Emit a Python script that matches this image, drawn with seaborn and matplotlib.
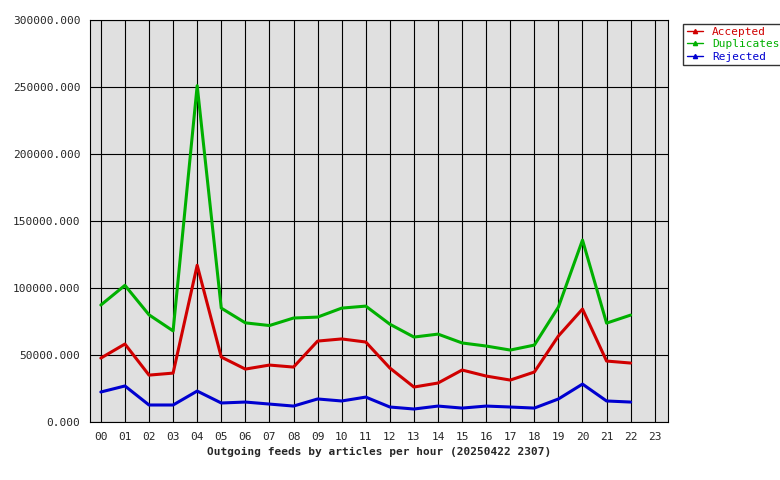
import seaborn as sns
import pandas as pd
import matplotlib.pyplot as plt

hours = ["%02d" % h for h in range(24)]
accepted = [47700, 58200, 35000, 36500, 117000, 48500, 39500, 42500, 41000, 60400, 62000, 59700,
            40300, 26100, 29100, 38800, 34300, 31300, 37300, 64200, 84300, 45500, 44000]
duplicates = [87300, 102000, 80000, 68000, 251000, 85000, 74000, 72000, 77600, 78300, 85000, 86500,
              73000, 63400, 65600, 59000, 56700, 53700, 57400, 85800, 135800, 73800, 79800]
rejected = [22400, 26900, 12700, 12700, 23100, 14200, 14900, 13400, 11900, 17200, 15700, 18600,
            11200, 9700, 11900, 10400, 11900, 11200, 10400, 17200, 28300, 15700, 14900]

n = len(accepted)
df = pd.DataFrame({
    "hour": list(range(n)) * 3,
    "value": accepted + duplicates + rejected,
    "series": ["Accepted"] * n + ["Duplicates"] * n + ["Rejected"] * n,
})
colors = {"Accepted": "#d00000", "Duplicates": "#00b000", "Rejected": "#0000d0"}

sns.set_style("white")
plt.rcParams["font.family"] = ["DejaVu Sans Mono"]
fig = plt.figure(figsize=(7.8, 4.8), dpi=100)
ax = fig.add_axes([0.1154, 0.1208, 0.741, 0.8375])
ax.set_facecolor("#e0e0e0")
sns.lineplot(data=df, x="hour", y="value", hue="series", palette=colors, linewidth=2.2, ax=ax, legend=False)
ax.set_xlim(-0.45, 23.55)
ax.set_ylim(0, 300000)
ax.set_xticks(range(24))
ax.set_xticklabels(hours, fontsize=8)
ax.set_yticks(range(0, 300001, 50000))
ax.set_yticklabels(["%d.000" % v for v in range(0, 300001, 50000)], fontsize=8)
ax.grid(True, color="black", linewidth=0.8)
ax.set_axisbelow(True)
for s in ax.spines.values():
    s.set_color("black")
ax.set_xlabel("Outgoing feeds by articles per hour (20250422 2307)", fontsize=8, fontweight="bold")
ax.set_ylabel("")

handles = [plt.Line2D([], [], color=c, marker="^", markersize=3, linewidth=1) for c in colors.values()]
leg = fig.legend(handles, list(colors.keys()), loc="upper left", bbox_to_anchor=(0.869, 0.962),
                 fontsize=8, frameon=True, fancybox=False, edgecolor="black", handlelength=1.5,
                 borderpad=0.3, labelspacing=0.2)
for t, c in zip(leg.get_texts(), colors.values()):
    t.set_color(c)
fig.savefig("out.png", dpi=100)
